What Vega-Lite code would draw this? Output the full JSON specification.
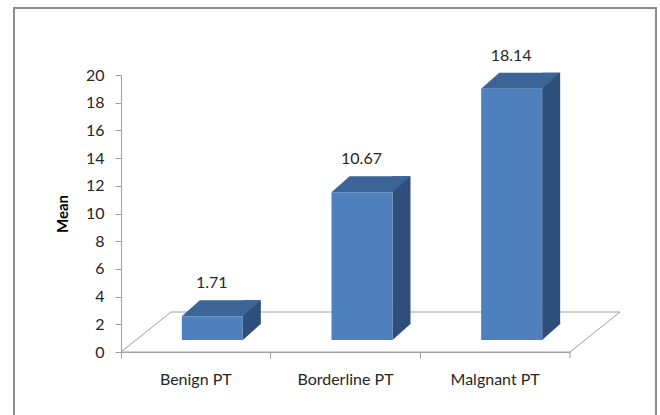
{
  "$schema": "https://vega.github.io/schema/vega-lite/v6.json",
  "width": 642,
  "height": 410,
  "autosize": {"type": "none"},
  "padding": {"left": 14, "top": 8, "right": 4, "bottom": -3},
  "background": "white",
  "config": {
    "view": {"stroke": "#8C8C8C", "strokeWidth": 2},
    "font": "Lato"
  },
  "data": {
    "values": [
      {"category": "Benign PT", "mean": 1.71},
      {"category": "Borderline PT", "mean": 10.67},
      {"category": "Malgnant  PT", "mean": 18.14}
    ]
  },
  "encoding": {
    "x": {
      "field": "category",
      "type": "nominal",
      "sort": null,
      "scale": {"domain": ["Benign PT", "Borderline PT", "Malgnant  PT"], "range": [107, 556], "paddingInner": 0, "paddingOuter": 0},
      "axis": {
        "title": null,
        "offset": -66,
        "bandPosition": 0,
        "domainColor": "#A0A0A0",
        "tickColor": "#A0A0A0",
        "tickSize": 6,
        "labelAngle": 0,
        "labelPadding": 13,
        "labelFontSize": 16,
        "labelFont": "Lato",
        "labelColor": "#262626"
      }
    },
    "y": {
      "field": "mean",
      "type": "quantitative",
      "scale": {"domain": [0, 20], "range": [344, 67], "nice": false},
      "axis": {
        "title": "Mean",
        "offset": -107,
        "values": [0, 2, 4, 6, 8, 10, 12, 14, 16, 18, 20],
        "grid": false,
        "domainColor": "#A0A0A0",
        "tickColor": "#A0A0A0",
        "tickSize": 6,
        "labelPadding": 11,
        "labelFontSize": 16,
        "labelFont": "Lato",
        "labelColor": "#262626",
        "titleFont": "Lato",
        "titleFontSize": 15,
        "titleFontWeight": "bold",
        "titleColor": "#000000",
        "titlePadding": 15
      }
    }
  },
  "layer": [
    {
      "transform": [{"filter": "datum.category === 'Benign PT'"}],
      "mark": {
        "type": "point",
        "shape": "M 0 0 L 449 0 L 499 -40 L 50 -40 Z",
        "size": 4,
        "filled": false,
        "stroke": "#A0A0A0",
        "strokeWidth": 1,
        "opacity": 1
      },
      "encoding": {
        "x": {"field": "category", "type": "nominal", "sort": null, "bandPosition": 0},
        "y": {"datum": 0, "type": "quantitative"}
      }
    },
    {
      "transform": [{"filter": "datum.category === 'Malgnant  PT'"}],
      "mark": {"type": "tick", "orient": "vertical", "size": 6, "thickness": 1, "color": "#A0A0A0", "yOffset": 3, "opacity": 1},
      "encoding": {
        "x": {"field": "category", "type": "nominal", "sort": null, "bandPosition": 1},
        "y": {"datum": 0, "type": "quantitative"}
      }
    },
    {
      "mark": {"type": "bar", "width": 18, "xOffset": 56, "yOffset": -28, "y2Offset": -28, "color": "#2E4F7C"}
    },
    {
      "mark": {
        "type": "point",
        "shape": "M 47 -28.5 L 47 -12 L 65.5 -28.5 Z",
        "size": 4,
        "filled": true,
        "color": "#2E4F7C",
        "strokeWidth": 0,
        "opacity": 1
      },
      "encoding": {"y": {"datum": 0, "type": "quantitative"}}
    },
    {
      "mark": {
        "type": "point",
        "shape": "M -14 -12 L 4 -28 L 65 -28 L 47 -12 Z",
        "size": 4,
        "filled": true,
        "color": "#3B6597",
        "strokeWidth": 0,
        "opacity": 1
      }
    },
    {
      "mark": {"type": "bar", "width": 61, "xOffset": 16.5, "yOffset": -12, "y2Offset": -12, "color": "#4E80BE"}
    },
    {
      "mark": {"type": "text", "dx": 16, "dy": -45, "baseline": "middle", "align": "center", "fontSize": 16, "font": "Lato", "color": "#262626"},
      "encoding": {"text": {"field": "mean", "type": "quantitative", "format": ".2f"}}
    }
  ]
}
